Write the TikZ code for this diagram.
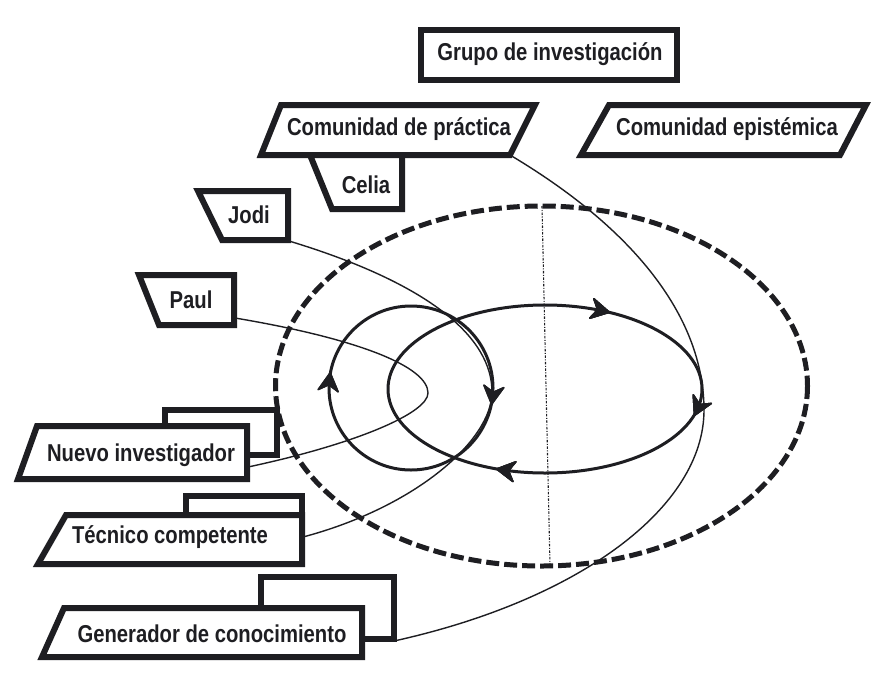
\documentclass[tikz,border=0pt]{standalone}
\usepackage{fontspec}
\setmainfont{Liberation Sans}[FakeStretch=0.83]
\usetikzlibrary{decorations.markings}
\definecolor{ink}{RGB}{30,30,34}
\begin{document}
\begin{tikzpicture}[x=1pt,y=-1pt,
  box/.style={draw=ink,line width=6pt,line join=miter},
  lbl/.style={font=\fontsize{24.4}{28}\selectfont\bfseries,inner sep=0pt,text=ink},
  thinline/.style={draw=ink,line width=1.4pt},
  loopline/.style={draw=ink,line width=3pt},
  tipmark/.style={decoration={markings,mark=at position #1 with {\filldraw[ink,line width=1.5pt,line join=round] (6pt,0pt) -- (-12pt,10pt) -- (-6pt,0pt) -- (-12pt,-10pt) -- cycle;}},postaction={decorate}},
]
\fill[white] (0,0) rectangle (883,683);
\useasboundingbox (0,0) rectangle (883,683);

% boxes
\draw[box] (421,30) rectangle (677,80);
\node[lbl] (grupo) at (550,54) {Grupo de investigación};

\draw[box] (281,105) -- (535,105) -- (510,155) -- (261,155) -- cycle;
\node[lbl] (cpr) at (399,129) {Comunidad de práctica};
\draw[box] (310,155) -- (332,209) -- (402,209) -- (402,155);
\node[lbl] (celia) at (366,185) {Celia};

\draw[box] (609,105) -- (866,105) -- (840,155) -- (581,155) -- cycle;
\node[lbl] (cep) at (727,129) {Comunidad epistémica};

\draw[box] (198,191) -- (288,191) -- (288,240) -- (222,240) -- cycle;
\node[lbl] (jodi) at (249,215) {Jodi};

\draw[box] (139,275) -- (234,275) -- (234,325) -- (159,325) -- cycle;
\node[lbl] (paul) at (191,300) {Paul};

\draw[box] (37,426) -- (247,426) -- (247,479) -- (18,479) -- cycle;
\draw[box] (165,426) -- (165,410) -- (277,410) -- (277,455) -- (247,455);
\node[lbl] (nuevo) at (141,455) {Nuevo investigador};

\draw[box] (66,515) -- (302,515) -- (302,564) -- (38,564) -- cycle;
\draw[box] (186,515) -- (186,496) -- (302,496) -- (302,515);
\node[lbl] (tecnico) at (170,537) {Técnico competente};

\draw[box] (64,608) -- (362,608) -- (362,657) -- (42,657) -- cycle;
\draw[box] (261,608) -- (261,577) -- (394,577) -- (394,639) -- (362,639);
\node[lbl] (gen) at (212,634) {Generador de conocimiento};

% connector ends
\coordinate (cprA) at (510,155);
\coordinate (genA) at (394,641);
\coordinate (jodiA) at (289,241);
\coordinate (tecA) at (303,537);
\coordinate (paulA) at (235,318);
\coordinate (nuevoA) at (248,467);
\coordinate (dtop) at (542,206);
\coordinate (dbot) at (550,566);

% dashed outer ellipse and dotted divider
\draw[ink,line width=5pt,dash pattern=on 13pt off 5pt] (541.5,386) ellipse [x radius=266, y radius=180];
\draw[ink,line width=1.1pt,dash pattern=on 2.5pt off 1.5pt on 1pt off 1.5pt] (dtop) -- (dbot);

% cycles
\draw[loopline,tipmark=0.02,tipmark=0.518] (411,388) ellipse [x radius=82, y radius=82];
\draw[loopline,tipmark=0.028,tipmark=0.305,tipmark=0.826] (545,389) ellipse [x radius=157, y radius=84];

% thin connectors
\draw[thinline] (cprA) .. controls (646,236) and (704,326) .. (704,410)
                       .. controls (704,507) and (580,600) .. (genA);
\draw[thinline] (jodiA) .. controls (431,284) and (492,338) .. (492,392)
                        .. controls (492,440) and (416,507) .. (tecA);
\draw[thinline] (paulA) .. controls (360,339) and (428,367) .. (428,393)
                        .. controls (428,413) and (356,444) .. (nuevoA);
\end{tikzpicture}
\end{document}
